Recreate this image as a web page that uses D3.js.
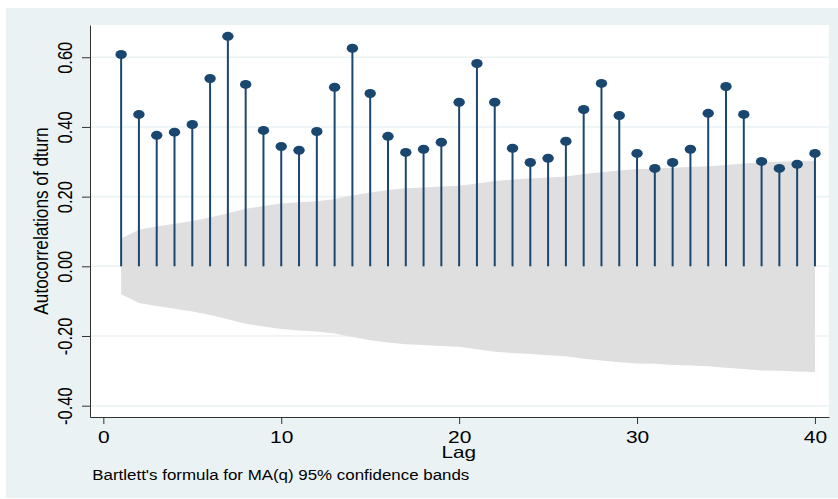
<!DOCTYPE html>
<html>
<head>
<meta charset="utf-8">
<script src="https://cdn.jsdelivr.net/npm/d3@7"></script>
<style>
  body { margin: 0; background: #fff; }
  svg { display: block; }
  text { font-family: "Liberation Sans", Arial, sans-serif; fill: #000; }
</style>
</head>
<body>
<svg id="chart" width="838" height="499"></svg>
<script>
// lags and autocorrelations
const lags = [1, 2, 3, 4, 5, 6, 7, 8, 9, 10, 11, 12, 13, 14, 15, 16, 17, 18, 19, 20,
              21, 22, 23, 24, 25, 26, 27, 28, 29, 30, 31, 32, 33, 34, 35, 36, 37, 38, 39, 40];
const acf = [0.608, 0.436, 0.376, 0.385, 0.407, 0.539, 0.660, 0.522, 0.390, 0.344,
             0.333, 0.387, 0.514, 0.626, 0.496, 0.373, 0.327, 0.336, 0.356, 0.471,
             0.582, 0.471, 0.339, 0.298, 0.310, 0.359, 0.450, 0.525, 0.433, 0.324,
             0.281, 0.298, 0.336, 0.439, 0.516, 0.436, 0.301, 0.281, 0.293, 0.324];
// half width of the 95% confidence band (Bartlett), per lag
const band = [0.080, 0.105, 0.114, 0.122, 0.130, 0.140, 0.152, 0.165, 0.173, 0.180,
              0.184, 0.187, 0.193, 0.203, 0.212, 0.219, 0.224, 0.226, 0.229, 0.231,
              0.238, 0.245, 0.249, 0.252, 0.255, 0.258, 0.265, 0.270, 0.275, 0.279,
              0.280, 0.283, 0.285, 0.287, 0.291, 0.295, 0.299, 0.300, 0.302, 0.303];
const xTicks = [0, 10, 20, 30, 40];
const yTicks = [-0.4, -0.2, 0, 0.2, 0.4, 0.6];

const navy = "#1a476f";
const bluishGray = "#eaf2f3";

const svg = d3.select("#chart");

// plot region
const plotL = 90, plotR = 829, plotT = 25, plotB = 417;

const x = d3.scaleLinear().domain([-0.75, 40.79]).range([plotL, plotR]);
const y = d3.scaleLinear().domain([-0.4325, 0.6926]).range([plotB, plotT]);

const fmt = d3.formatLocale({decimal: ".", thousands: ",", grouping: [3], currency: ["", ""], minus: "-"}).format(".2f");

// backgrounds
svg.append("rect").attr("x", 6).attr("y", 8).attr("width", 832).attr("height", 490).attr("fill", bluishGray);
svg.append("rect").attr("x", plotL).attr("y", plotT).attr("width", plotR - plotL).attr("height", plotB - plotT).attr("fill", "#fff");

// gridlines
svg.append("g").selectAll("line")
  .data(yTicks)
  .join("line")
  .attr("x1", plotL).attr("x2", plotR)
  .attr("y1", d => y(d)).attr("y2", d => y(d))
  .attr("stroke", bluishGray).attr("stroke-width", 1.6);

// confidence band
const area = d3.area()
  .x((d, i) => x(lags[i]))
  .y0(d => y(-d))
  .y1(d => y(d));
svg.append("path").datum(band).attr("d", area).attr("fill", "#dfdfdf");

// y axis
const yAxis = svg.append("g")
  .attr("transform", `translate(${plotL},0)`)
  .call(d3.axisLeft(y).tickValues(yTicks).tickSize(8).tickSizeOuter(0).tickFormat(fmt));
yAxis.attr("font-size", null).attr("font-family", null);
yAxis.select(".domain").attr("stroke", "#333");
yAxis.selectAll(".tick line").attr("stroke", "#333");
yAxis.selectAll(".tick text")
  .attr("x", null).attr("dy", null)
  .attr("text-anchor", "middle")
  .style("font-size", "16.5px")
  .attr("transform", "translate(-18.3,0) scale(1.27,1) rotate(-90)");

// x axis
const xAxis = svg.append("g")
  .attr("transform", `translate(0,${plotB})`)
  .call(d3.axisBottom(x).tickValues(xTicks).tickSize(7).tickSizeOuter(0).tickFormat(d3.format("d")));
xAxis.attr("font-size", null).attr("font-family", null);
xAxis.select(".domain").attr("stroke", "#333");
xAxis.selectAll(".tick line").attr("stroke", "#333");
xAxis.selectAll(".tick text")
  .attr("y", null).attr("dy", null)
  .attr("text-anchor", "middle")
  .style("font-size", "16.5px")
  .attr("transform", "translate(0,26) scale(1.27,1)");

// stems
svg.append("g").selectAll("line")
  .data(acf)
  .join("line")
  .attr("x1", (d, i) => x(lags[i])).attr("x2", (d, i) => x(lags[i]))
  .attr("y1", y(0)).attr("y2", d => y(d))
  .attr("stroke", navy).attr("stroke-width", 2);

// markers
svg.append("g").selectAll("ellipse")
  .data(acf)
  .join("ellipse")
  .attr("cx", (d, i) => x(lags[i]))
  .attr("cy", d => y(d))
  .attr("rx", 5.7).attr("ry", 4.5)
  .attr("fill", navy);

// titles (the original picture is stretched sideways, so text is too)
svg.append("text")
  .attr("transform", `translate(48,${(plotT + plotB) / 2}) scale(1.22,1) rotate(-90)`)
  .attr("text-anchor", "middle")
  .style("font-size", "17.2px")
  .text("Autocorrelations of dturn");

svg.append("text")
  .attr("transform", "translate(458.7,458.3) scale(1.27,1)")
  .attr("text-anchor", "middle")
  .style("font-size", "16.3px")
  .text("Lag");

svg.append("text")
  .attr("x", 92.3).attr("y", 480.3)
  .attr("textLength", 377).attr("lengthAdjust", "spacingAndGlyphs")
  .style("font-size", "14px")
  .text("Bartlett's formula for MA(q) 95% confidence bands");
</script>
</body>
</html>
